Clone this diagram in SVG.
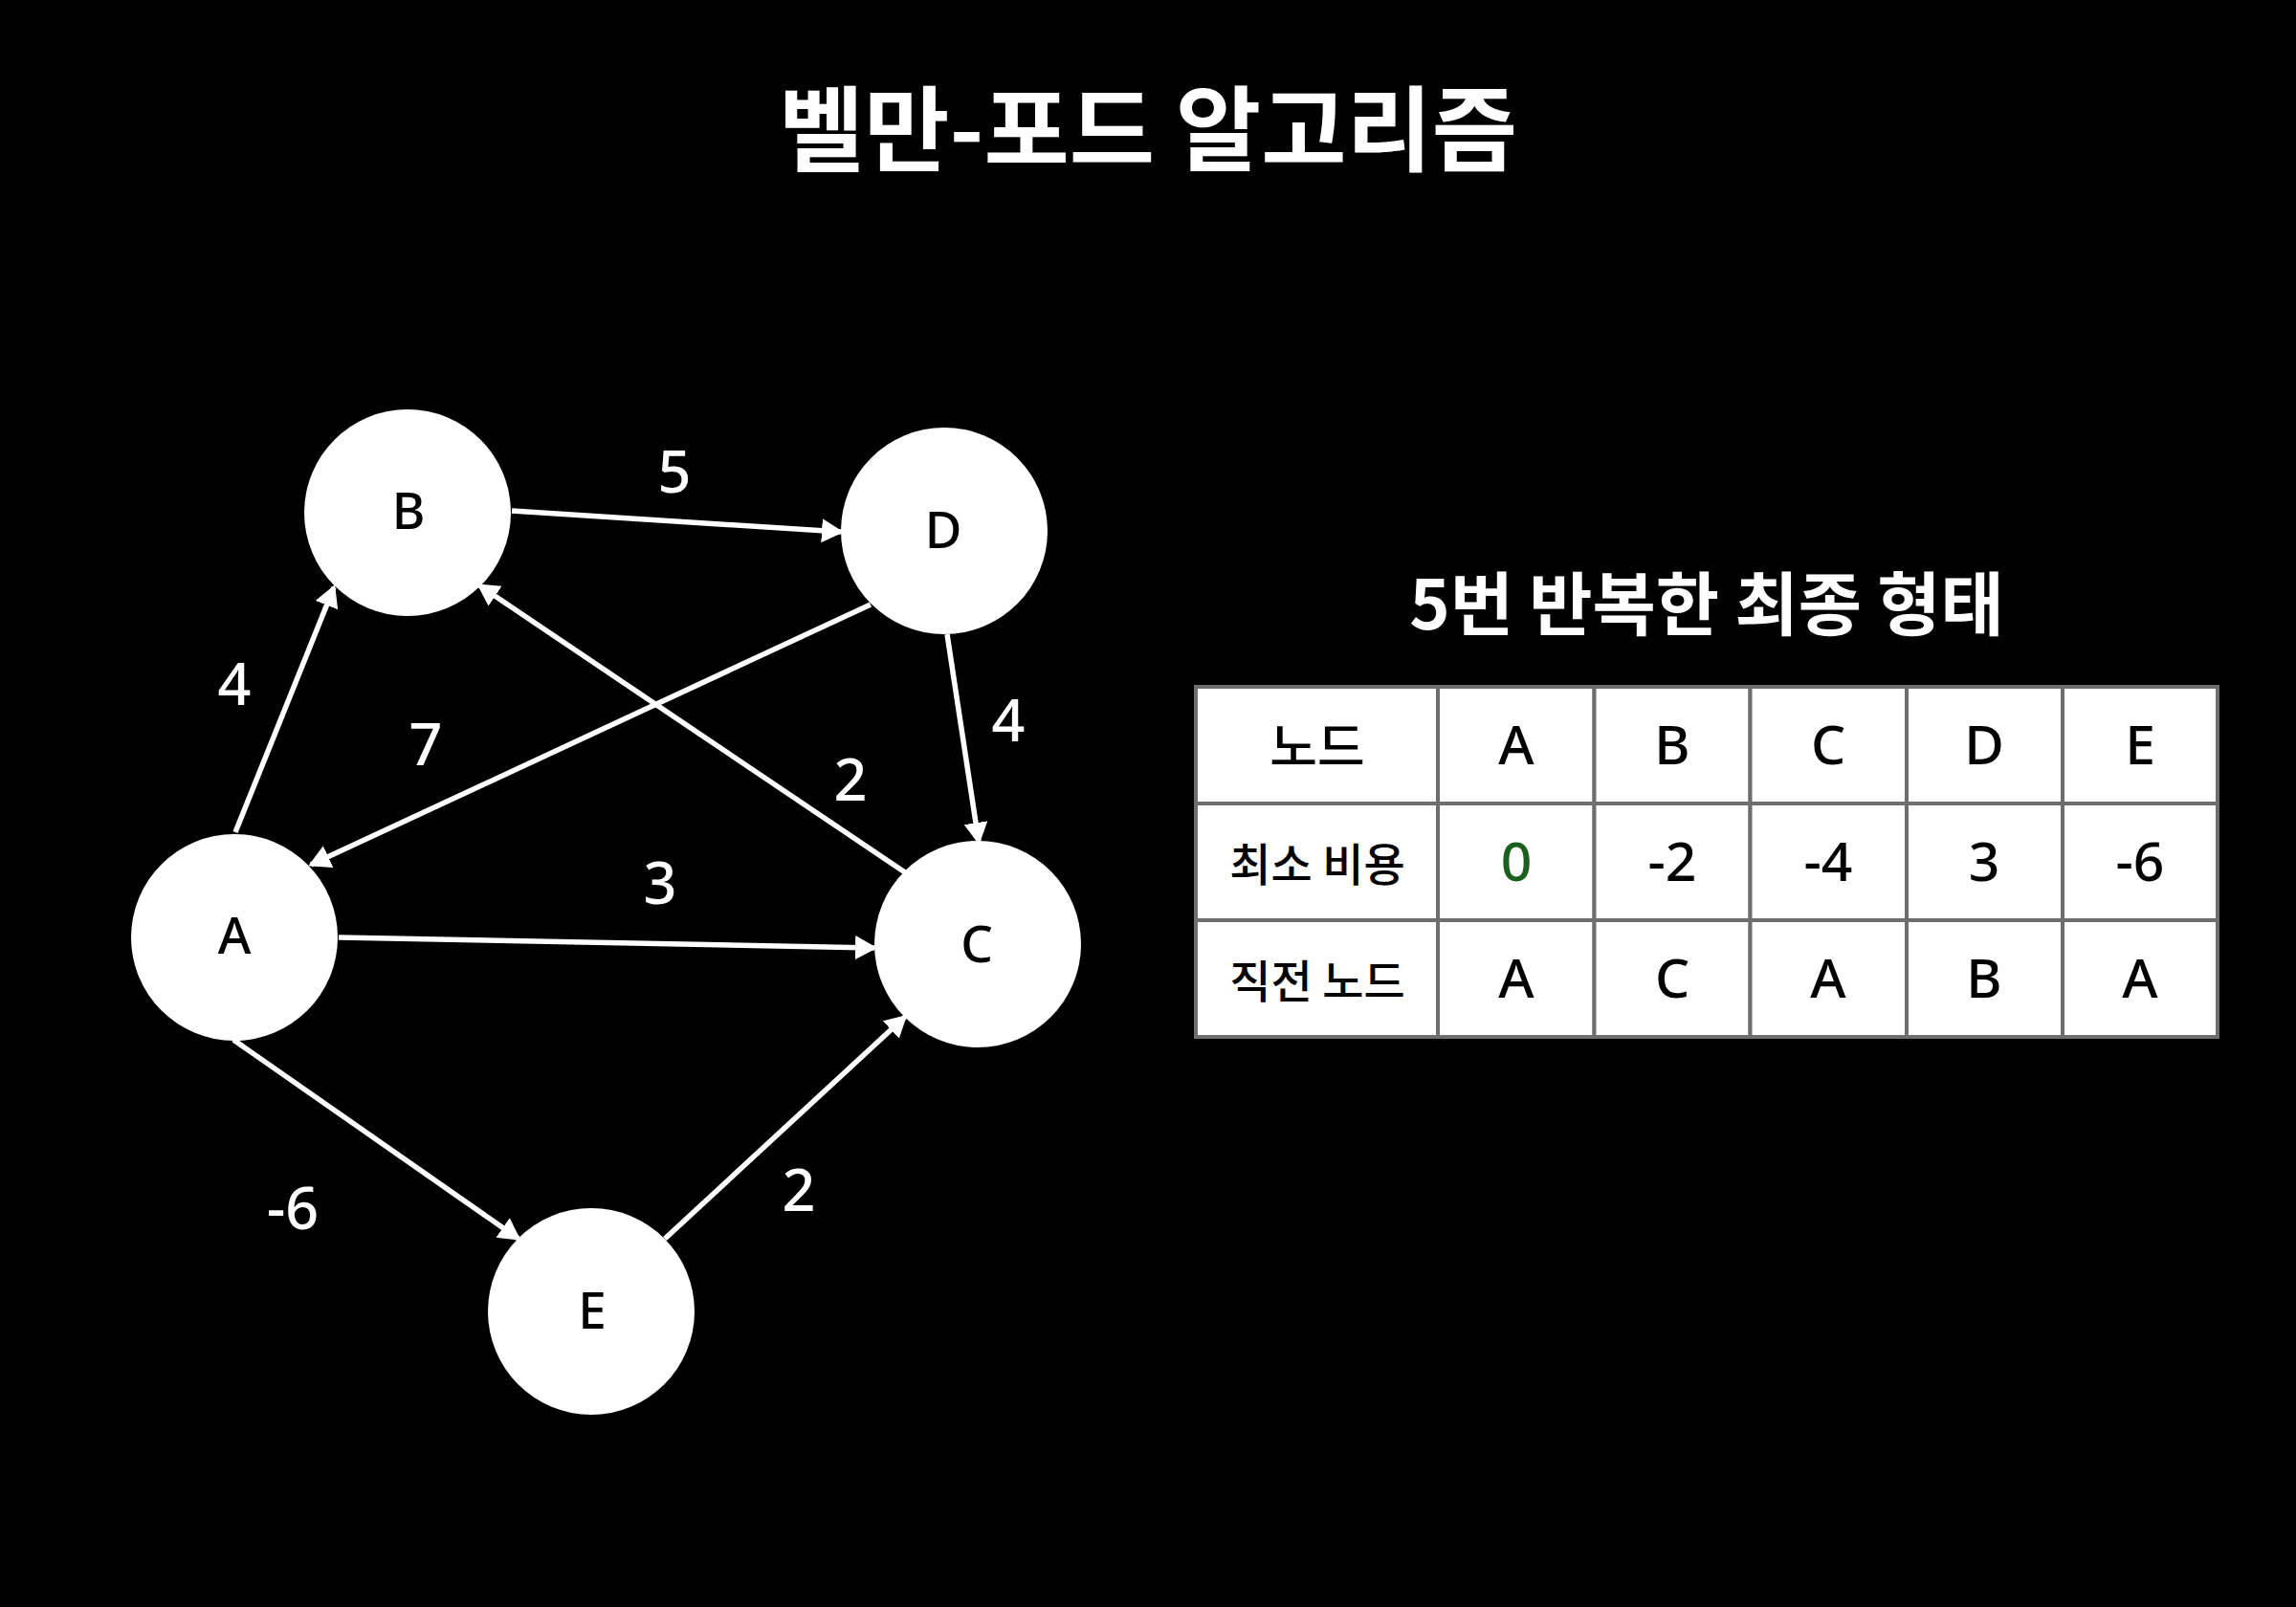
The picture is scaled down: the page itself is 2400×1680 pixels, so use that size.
<svg xmlns="http://www.w3.org/2000/svg" width="2400" height="1680" viewBox="0 0 2400 1680">
<style>
.title{font-family:"Noto Sans CJK KR","Noto Sans",sans-serif;font-weight:bold;fill:#fff;text-anchor:middle;}
.node{fill:#fff;}
.nl{font-family:"Noto Sans","Noto Sans CJK KR",sans-serif;font-size:53px;font-weight:500;fill:#000;text-anchor:middle;}
.el{font-family:"Noto Sans","Noto Sans CJK KR",sans-serif;font-size:61px;font-weight:500;fill:#fff;text-anchor:middle;}
.edge{stroke:#fff;stroke-width:5.5;fill:none;marker-end:url(#arr);}
.cell{fill:#fff;stroke:#6e6e6e;stroke-width:4;}
.tx{font-family:"Noto Sans","Noto Sans CJK KR",sans-serif;font-size:57px;font-weight:500;fill:#000;text-anchor:middle;}
.kx{font-family:"Noto Sans CJK KR","Noto Sans",sans-serif;font-size:47px;font-weight:500;fill:#000;text-anchor:middle;}
</style>
<defs>
<marker id="arr" markerUnits="userSpaceOnUse" markerWidth="24" markerHeight="26" refX="20" refY="12.5" orient="auto">
<path d="M0,0 L23,12.5 L0,25 z" fill="#fff"/>
</marker>
</defs>
<rect width="2400" height="1680" fill="#000"/>
<text class="title" x="1200" y="171" font-size="97">벨만-포드 알고리즘</text>
<g id="edges">
<line class="edge" x1="246" y1="870" x2="349" y2="614"/>
<line class="edge" x1="535" y1="534" x2="879" y2="556"/>
<line class="edge" x1="910" y1="632" x2="325" y2="904"/>
<line class="edge" x1="946" y1="912" x2="501" y2="612"/>
<line class="edge" x1="990" y1="663" x2="1023" y2="880"/>
<line class="edge" x1="354" y1="980" x2="914" y2="991"/>
<line class="edge" x1="244" y1="1087" x2="542" y2="1295"/>
<line class="edge" x1="695" y1="1295" x2="946" y2="1063"/>
</g>
<g id="edge-labels">
<text class="el" x="705" y="515">5</text>
<text class="el" x="245" y="737">4</text>
<text class="el" x="445" y="800">7</text>
<text class="el" x="889" y="837">2</text>
<text class="el" x="1054" y="775">4</text>
<text class="el" x="690" y="945">3</text>
<text class="el" x="306" y="1285">-6</text>
<text class="el" x="835" y="1266">2</text>
</g>
<g id="node-B"><circle class="node" cx="426" cy="536" r="108"/><text class="nl" x="427" y="553">B</text></g>
<g id="node-D"><circle class="node" cx="987" cy="555" r="108"/><text class="nl" x="986" y="573">D</text></g>
<g id="node-A"><circle class="node" cx="245" cy="980" r="108"/><text class="nl" x="245" y="997">A</text></g>
<g id="node-C"><circle class="node" cx="1022" cy="987" r="108"/><text class="nl" x="1021" y="1006">C</text></g>
<g id="node-E"><circle class="node" cx="618" cy="1371" r="108"/><text class="nl" x="619" y="1389">E</text></g>
<g id="table">
<text class="title" x="1784" y="658" font-size="72">5번 반복한 최종 형태</text>
<g id="row1">
<rect class="cell" x="1250" y="718" width="253" height="122"/>
<rect class="cell" x="1503" y="718" width="163.5" height="122"/>
<rect class="cell" x="1666.5" y="718" width="163" height="122"/>
<rect class="cell" x="1829.5" y="718" width="163.5" height="122"/>
<rect class="cell" x="1993" y="718" width="163" height="122"/>
<rect class="cell" x="2156" y="718" width="162" height="122"/>
</g>
<g id="row2">
<rect class="cell" x="1250" y="840" width="253" height="122"/>
<rect class="cell" x="1503" y="840" width="163.5" height="122"/>
<rect class="cell" x="1666.5" y="840" width="163" height="122"/>
<rect class="cell" x="1829.5" y="840" width="163.5" height="122"/>
<rect class="cell" x="1993" y="840" width="163" height="122"/>
<rect class="cell" x="2156" y="840" width="162" height="122"/>
</g>
<g id="row3">
<rect class="cell" x="1250" y="962" width="253" height="122"/>
<rect class="cell" x="1503" y="962" width="163.5" height="122"/>
<rect class="cell" x="1666.5" y="962" width="163" height="122"/>
<rect class="cell" x="1829.5" y="962" width="163.5" height="122"/>
<rect class="cell" x="1993" y="962" width="163" height="122"/>
<rect class="cell" x="2156" y="962" width="162" height="122"/>
</g>
<text class="kx" x="1377" y="801" style="font-size:54px">노드</text>
<text class="tx" x="1585" y="799">A</text>
<text class="tx" x="1748" y="799">B</text>
<text class="tx" x="1911" y="799">C</text>
<text class="tx" x="2074" y="799">D</text>
<text class="tx" x="2237" y="799">E</text>
<text class="kx" x="1377" y="921">최소 비용</text>
<text class="tx" x="1585" y="921" style="fill:#1b5e20">0</text>
<text class="tx" x="1748" y="921">-2</text>
<text class="tx" x="1911" y="921">-4</text>
<text class="tx" x="2074" y="921">3</text>
<text class="tx" x="2237" y="921">-6</text>
<text class="kx" x="1377" y="1043">직전 노드</text>
<text class="tx" x="1585" y="1043">A</text>
<text class="tx" x="1748" y="1043">C</text>
<text class="tx" x="1911" y="1043">A</text>
<text class="tx" x="2074" y="1043">B</text>
<text class="tx" x="2237" y="1043">A</text>
</g>
</svg>
